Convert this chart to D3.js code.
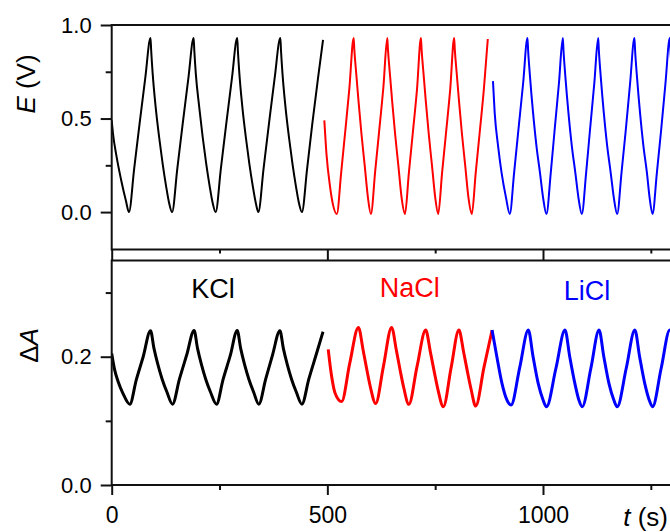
<!DOCTYPE html>
<html>
<head>
<meta charset="utf-8">
<script src="https://cdn.jsdelivr.net/npm/d3@7"></script>
<style>
  html, body { margin: 0; padding: 0; background: #fff; }
  svg { display: block; }
  text { font-family: "Liberation Sans", Arial, sans-serif; fill: #000; }
</style>
</head>
<body>
<svg id="chart" width="670" height="532"></svg>
<script>
// ---------------- data (t in s) ----------------
const xTicksMajor = [0, 500, 1000];
const xTicksMinor = [250, 750, 1250];
const eTicksMajor = [0, 0.5, 1.0];
const eTicksMinor = [0.25, 0.75];
const aTicksMajor = [0, 0.2];
const aTicksMinor = [0.1, 0.3];
const categories = ["KCl", "NaCl", "LiCl"];
const seriesColors = ["#000000", "#ff0000", "#0000ff"];
const labelT = [235, 691, 1102];

// E (V) traces
const kclE = [[0,0.49],[3,0.42],[11,0.30],[22,0.17],[33,0.06],[40,0.0],
  [52,0.23],[65,0.48],[78,0.72],[90,0.93],[91.5,0.865],
  [95,0.74],[102,0.56],[110,0.40],[118,0.26],[126,0.14],[133,0.05],[140,0.0],
  [152,0.23],[165,0.48],[178,0.72],[190,0.93],[191.5,0.865],
  [195,0.74],[203,0.56],[211,0.40],[219,0.26],[227,0.14],[234,0.05],[241,0.0],
  [253,0.23],[266,0.48],[279,0.72],[291,0.93],[292.5,0.865],
  [296,0.74],[303,0.56],[311,0.40],[319,0.26],[327,0.14],[334,0.05],[340,0.0],
  [352,0.23],[365,0.48],[378,0.72],[391,0.93],[392.5,0.865],
  [396,0.74],[403,0.56],[411,0.40],[419,0.26],[427,0.14],[434,0.05],[441,0.0],
  [453,0.23],[465,0.47],[478,0.71],[490,0.92]];
const naclE = [[493,0.49],[498,0.31],[506,0.14],[513,0.04],[522,-0.01],
  [532,0.21],[541,0.42],[551,0.66],[561,0.93],[562.5,0.87],
  [567,0.74],[572,0.60],[579,0.42],[587,0.24],[594,0.08],[601,-0.01],
  [611,0.22],[620,0.43],[630,0.67],[639,0.93],[640.5,0.87],
  [645,0.74],[650,0.60],[657,0.42],[665,0.24],[672,0.08],[680,-0.01],
  [689,0.21],[698,0.42],[708,0.66],[717,0.93],[718.5,0.87],
  [723,0.74],[728,0.60],[735,0.42],[743,0.24],[750,0.08],[757,-0.01],
  [766,0.21],[775,0.42],[785,0.66],[794,0.93],[795.5,0.87],
  [800,0.74],[805,0.60],[812,0.42],[820,0.24],[827,0.08],[835,-0.01],
  [844,0.21],[853,0.42],[863,0.66],[872,0.925]];
const liclE = [[884,0.70],[888,0.53],[896,0.35],[904,0.21],[914,0.08],[923,-0.01],
  [933,0.21],[943,0.44],[954,0.69],[964,0.93],[965.5,0.865],
  [970,0.72],[977,0.53],[985,0.35],[993,0.21],[1000,0.08],[1008,-0.01],
  [1018,0.21],[1027,0.44],[1037,0.69],[1046,0.93],[1047.5,0.865],
  [1052,0.72],[1059,0.53],[1067,0.35],[1075,0.21],[1082,0.08],[1090,-0.01],
  [1100,0.21],[1109,0.44],[1119,0.69],[1128,0.93],[1129.5,0.865],
  [1134,0.72],[1141,0.53],[1149,0.35],[1157,0.21],[1164,0.08],[1172,-0.01],
  [1182,0.21],[1192,0.44],[1202,0.69],[1212,0.93],[1213.5,0.865],
  [1218,0.72],[1225,0.53],[1233,0.35],[1241,0.21],[1247,0.08],[1254,-0.01],
  [1264,0.21],[1274,0.44],[1284,0.69],[1294,0.93],[1295.5,0.865],[1300,0.72]];

// ΔA traces
const kclA = [[0,0.205],[7,0.179],[15,0.161],[26,0.143],[42,0.126],
  [57,0.164],[73,0.200],[90,0.2405],
  [98,0.213],[107,0.188],[117,0.165],[128,0.145],[141,0.126],
  [157,0.165],[174,0.203],[191,0.241],
  [199,0.213],[208,0.188],[218,0.165],[229,0.145],[243,0.126],
  [258,0.164],[275,0.202],[291,0.241],
  [299,0.213],[308,0.188],[318,0.165],[329,0.145],[341,0.126],
  [357,0.165],[373,0.203],[390,0.2405],
  [398,0.213],[407,0.188],[417,0.165],[428,0.145],[441,0.126],
  [457,0.165],[474,0.203],[490,0.239]];
const naclA = [[502,0.2115],[510,0.169],[518,0.143],[533,0.130],
  [552,0.19],[572,0.2457],
  [583,0.21],[592,0.178],[600,0.152],[612,0.127],
  [630,0.185],[649,0.2457],
  [660,0.21],[669,0.178],[677,0.152],[689,0.1257],
  [708,0.185],[728,0.2415],
  [739,0.207],[748,0.176],[756,0.15],[769,0.122],
  [787,0.183],[805,0.2415],
  [816,0.207],[825,0.176],[833,0.15],[844,0.123],
  [863,0.183],[882,0.2415]];
const liclA = [[882,0.2415],
  [893,0.20],[905,0.158],[916,0.133],[926,0.1247],
  [946,0.183],[966,0.2415],
  [977,0.20],[989,0.158],[1000,0.133],[1008,0.122],
  [1030,0.182],[1051,0.2415],
  [1062,0.20],[1074,0.158],[1083,0.133],[1091,0.122],
  [1111,0.182],[1130,0.2415],
  [1141,0.20],[1153,0.158],[1164,0.133],[1172,0.122],
  [1193,0.182],[1213,0.2415],
  [1224,0.20],[1236,0.158],[1246,0.133],[1254,0.122],
  [1274,0.182],[1294,0.2415],[1305,0.20]];

// ---------------- layout ----------------
const svg = d3.select("#chart");
const X0 = 111.7, PXPS = 0.4313;
const x = d3.scaleLinear().domain([0, 1500]).range([X0, X0 + 1500 * PXPS]);
const topP = {y0: 25, y1: 249.5};
const botP = {y0: 260.5, y1: 485};
const yE = d3.scaleLinear().domain([-0.2, 1.0]).range([topP.y1, topP.y0]);
const yA = d3.scaleLinear().domain([0, 0.35]).range([botP.y1, botP.y0]);
const axisColor = "#111";

const defs = svg.append("defs");
defs.append("clipPath").attr("id", "clipTop").append("rect")
  .attr("x", X0).attr("y", topP.y0).attr("width", 1000).attr("height", topP.y1 - topP.y0);
defs.append("clipPath").attr("id", "clipBot").append("rect")
  .attr("x", X0).attr("y", botP.y0).attr("width", 1000).attr("height", botP.y1 - botP.y0);

// traces
const lineE = d3.line().x(d => x(d[0])).y(d => yE(d[1])).curve(d3.curveMonotoneX);
const lineA = d3.line().x(d => x(d[0])).y(d => yA(d[1])).curve(d3.curveMonotoneX);
const gTop = svg.append("g").attr("clip-path", "url(#clipTop)");
[kclE, naclE, liclE].forEach((s, i) => {
  gTop.append("path").attr("d", lineE(s)).attr("fill", "none")
    .attr("stroke", seriesColors[i]).attr("stroke-width", 2).attr("stroke-linejoin", "round");
});
const gBot = svg.append("g").attr("clip-path", "url(#clipBot)");
[kclA, naclA, liclA].forEach((s, i) => {
  gBot.append("path").attr("d", lineA(s)).attr("fill", "none")
    .attr("stroke", seriesColors[i]).attr("stroke-width", 3).attr("stroke-linejoin", "round");
});

// frames
[topP, botP].forEach(p => {
  svg.append("rect").attr("x", X0).attr("y", p.y0)
    .attr("width", x(1500) - X0).attr("height", p.y1 - p.y0)
    .attr("fill", "none").attr("stroke", axisColor).attr("stroke-width", 2);
});

function styleAxis(g, fontSize) {
  g.select(".domain").remove();
  g.selectAll(".tick line").attr("stroke", axisColor).attr("stroke-width", 2);
  g.selectAll(".tick text").attr("fill", "#000")
    .style("font-size", fontSize + "px").style("font-family", '"Liberation Sans", Arial, sans-serif');
}

// top panel axes
styleAxis(svg.append("g").attr("transform", `translate(${X0},0)`)
  .call(d3.axisLeft(yE).tickValues(eTicksMajor).tickSize(11).tickPadding(9).tickFormat(d3.format(".1f"))), 22);
styleAxis(svg.append("g").attr("transform", `translate(${X0},0)`)
  .call(d3.axisLeft(yE).tickValues(eTicksMinor).tickSize(6).tickFormat("")), 22);
styleAxis(svg.append("g").attr("transform", `translate(0,${topP.y1})`)
  .call(d3.axisBottom(x).tickValues(xTicksMajor).tickSize(11).tickFormat("")), 22);
styleAxis(svg.append("g").attr("transform", `translate(0,${topP.y1})`)
  .call(d3.axisBottom(x).tickValues(xTicksMinor).tickSize(4).tickFormat("")), 22);

// bottom panel axes
styleAxis(svg.append("g").attr("transform", `translate(${X0},0)`)
  .call(d3.axisLeft(yA).tickValues(aTicksMajor).tickSize(11).tickPadding(9).tickFormat(d3.format(".1f"))), 22);
styleAxis(svg.append("g").attr("transform", `translate(${X0},0)`)
  .call(d3.axisLeft(yA).tickValues(aTicksMinor).tickSize(6).tickFormat("")), 22);
styleAxis(svg.append("g").attr("transform", `translate(0,${botP.y1})`)
  .call(d3.axisBottom(x).tickValues(xTicksMajor).tickSize(10).tickPadding(12).tickFormat(d3.format("d"))), 23);
styleAxis(svg.append("g").attr("transform", `translate(0,${botP.y1})`)
  .call(d3.axisBottom(x).tickValues(xTicksMinor).tickSize(5).tickFormat("")), 23);

// axis titles
const eLab = svg.append("text").attr("transform", "translate(35,84) rotate(-90)")
  .attr("text-anchor", "middle").style("font-size", "26px");
eLab.append("tspan").style("font-style", "italic").text("E");
eLab.append("tspan").text(" (V)");

const aLab = svg.append("text").attr("transform", "translate(38,345.5) rotate(-90)")
  .attr("text-anchor", "middle").style("font-size", "26px");
aLab.append("tspan").text("Δ");
aLab.append("tspan").style("font-style", "italic").text("A");

const tLab = svg.append("text").attr("x", 668).attr("y", 526)
  .attr("text-anchor", "end").style("font-size", "26px");
tLab.append("tspan").style("font-style", "italic").text("t");
tLab.append("tspan").text(" (s)");

// category labels
const catBase = [297.5, 297, 300];
categories.forEach((c, i) => {
  svg.append("text").attr("x", x(labelT[i])).attr("y", catBase[i])
    .attr("text-anchor", "middle").style("font-size", "27px")
    .style("fill", seriesColors[i]).text(c);
});
</script>
</body>
</html>
